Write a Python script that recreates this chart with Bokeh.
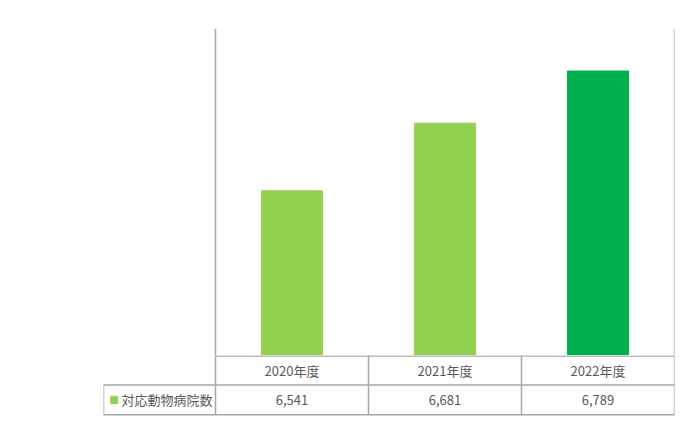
from bokeh.plotting import figure
from bokeh.layouts import column
from bokeh.models import Range1d, Span, ColumnDataSource
from bokeh.core.properties import value
from bokeh.embed import file_html
from bokeh.resources import INLINE

# ---- data ----
years = ["2020年度", "2021年度", "2022年度"]
counts = [6541, 6681, 6789]
count_labels = ["6,541", "6,681", "6,789"]
bar_colors = ["#92D050", "#92D050", "#00B050"]
series_name = "対応動物病院数"
series_color = "#92D050"

FONT = "Noto Sans CJK JP"
TXT = "#595959"
GRID = "#a6a6a6"

n = len(years)
col_px = 153.0
label_w = 112.0 / col_px  # width of the label column in category units
xs = [i + 0.5 for i in range(n)]

x_range = Range1d(-label_w, n)

# ---- bar chart ----
p = figure(width=676, height=355, x_range=x_range, y_range=Range1d(6200, 6877),
           output_backend="svg", toolbar_location=None,
           x_axis_type=None, y_axis_type=None,
           min_border_left=103, min_border_right=2, min_border_top=28, min_border_bottom=0)
p.outline_line_color = None
p.xgrid.visible = False
p.ygrid.visible = False
src = ColumnDataSource(dict(x=xs, top=counts, color=bar_colors))
p.vbar(x="x", top="top", bottom=6200, width=0.4, color="color", source=src)
p.add_layout(Span(location=0, dimension="height", line_color=GRID, line_width=1.5))
p.add_layout(Span(location=n, dimension="height", line_color=GRID, line_width=1.5))

# ---- data table ----
row_h = 29.6
t = figure(width=676, height=72, x_range=x_range, y_range=Range1d(72, 0),
           output_backend="svg", toolbar_location=None,
           x_axis_type=None, y_axis_type=None,
           min_border_left=103, min_border_right=2, min_border_top=0, min_border_bottom=0)
t.outline_line_color = None
t.xgrid.visible = False
t.ygrid.visible = False

# horizontal lines
t.segment(x0=[0, -label_w, -label_w], y0=[0.5, row_h, 2 * row_h],
          x1=[n, n, n], y1=[0.5, row_h, 2 * row_h], line_color=GRID, line_width=1.5)
# vertical lines
vx = list(range(n + 1))
t.segment(x0=vx, y0=[0] * len(vx), x1=vx, y1=[2 * row_h] * len(vx), line_color=GRID, line_width=1.5)
t.segment(x0=[-label_w], y0=[row_h], x1=[-label_w], y1=[2 * row_h], line_color=GRID, line_width=1.5)

t.text(x=xs, y=[row_h / 2] * n, text=years, text_align="center", text_baseline="middle",
       text_font=value(FONT), text_font_size="13px", text_color=TXT)
t.text(x=xs, y=[row_h * 1.5] * n, text=count_labels, text_align="center", text_baseline="middle",
       text_font=value(FONT), text_font_size="13px", text_color=TXT)
t.rect(x=[-label_w + 10.7 / col_px], y=[row_h * 1.5], width=7, height=7,
       width_units="screen", height_units="screen", color=series_color)
t.text(x=[-label_w], y=[row_h * 1.5], text=[series_name], x_offset=18, text_align="left",
       text_baseline="middle", text_font=value(FONT), text_font_size="13px", text_color=TXT)

layout = column(p, t, spacing=0)
open("out.html", "w").write(file_html(layout, INLINE))
